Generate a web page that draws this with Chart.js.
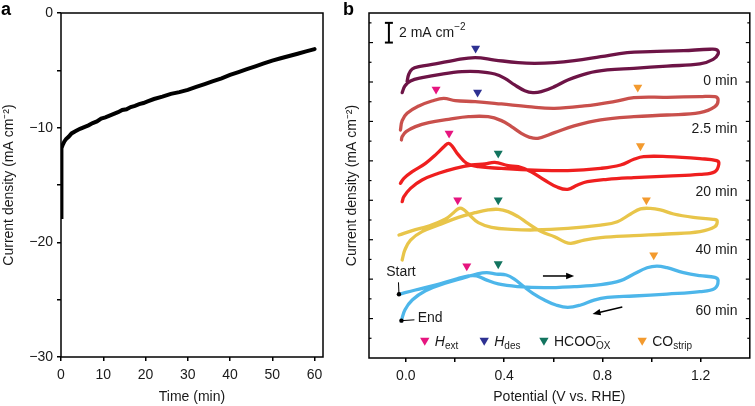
<!DOCTYPE html>
<html>
<head>
<meta charset="utf-8">
<script src="https://cdn.jsdelivr.net/npm/chart.js@4.4.0/dist/chart.umd.min.js"></script>
<style>
  body { margin: 0; background: #fff; }
  #wrapA { position: absolute; left: 0; top: 0; width: 340px; height: 406px; }
  #wrapB { position: absolute; left: 340px; top: 0; width: 415px; height: 406px; }
</style>
</head>
<body>
<div id="wrapA"><canvas id="chartA"></canvas></div>
<div id="wrapB"><canvas id="chartB"></canvas></div>
<script>
// ---- panel a : chronoamperometry ----
const timeMin = [0, 0.05, 0.15, 0.4, 0.8, 1.2, 1.8, 2.5, 3.5, 4.5, 5.5, 6.5, 7.5, 8.5, 9.5, 10.5, 11.5, 12.5, 13.5, 14.5,
  15.5, 16.5, 17.5, 18.5, 19.5, 20.5, 22, 24, 26, 28, 30, 32, 34, 36, 38, 40, 42, 44, 46, 48, 50, 52, 54, 56, 58, 60];
const currentA = [-17.8, -12.4, -11.8, -11.5, -11.2, -11.0, -10.8, -10.5, -10.3, -10.1, -9.95, -9.8, -9.6, -9.45, -9.2, -9.1, -8.95, -8.8, -8.65, -8.45,
  -8.4, -8.2, -8.1, -7.95, -7.85, -7.7, -7.5, -7.3, -7.05, -6.9, -6.7, -6.45, -6.2, -5.95, -5.7, -5.4, -5.15, -4.9, -4.65, -4.4, -4.15, -3.95, -3.75, -3.55, -3.35, -3.15];
const tickTimeA = [0, 10, 20, 30, 40, 50, 60];
const tickCurA = [-30, -25, -20, -15, -10, -5, 0];

// ---- panel b : CVs (current offset for stacking, mA cm-2) ----
const cv0V = [0.005, 0.012, 0.026, 0.053, 0.120, 0.201, 0.282, 0.362, 0.457, 0.524, 0.605, 0.686, 0.793, 0.901, 0.995, 1.130, 1.238, 1.267, 1.271,
  1.251, 1.197, 1.063, 0.928, 0.820, 0.739, 0.659, 0.605, 0.551, 0.517, 0.484, 0.443, 0.403, 0.362, 0.295, 0.228, 0.147, 0.066, 0.019, -0.004, -0.015];
const cv0J = [28.04, 28.81, 29.32, 29.56, 29.83, 30.23, 30.47, 30.23, 29.96, 29.89, 29.96, 30.17, 30.57, 30.98, 31.08, 31.18, 31.32, 31.25, 30.84,
  30.30, 29.83, 29.62, 29.39, 29.22, 28.88, 28.20, 27.53, 27.02, 26.92, 27.12, 27.70, 28.37, 28.81, 29.05, 29.05, 28.81, 28.44, 28.10, 27.59, 26.92];

const cv25V = [-0.022, -0.015, 0.005, 0.053, 0.106, 0.154, 0.201, 0.282, 0.389, 0.497, 0.605, 0.726, 0.847, 0.928, 1.063, 1.197, 1.258, 1.271,
  1.258, 1.197, 1.063, 0.928, 0.793, 0.685, 0.605, 0.537, 0.504, 0.470, 0.430, 0.389, 0.335, 0.255, 0.174, 0.093, 0.039, 0.001, -0.015, -0.018];
const cv25J = [23.13, 24.08, 24.82, 25.57, 26.07, 26.34, 26.11, 26.01, 25.77, 25.50, 25.33, 25.57, 26.01, 26.41, 26.45, 26.51, 26.51, 26.18,
  25.50, 24.89, 24.65, 24.48, 24.15, 23.54, 22.86, 22.29, 22.39, 22.79, 23.47, 24.08, 24.48, 24.48, 24.21, 23.88, 23.47, 22.96, 22.46, 22.12];

const cv20V = [-0.022, -0.008, 0.026, 0.080, 0.127, 0.158, 0.174, 0.190, 0.214, 0.248, 0.295, 0.389, 0.524, 0.659, 0.793, 0.874, 0.928, 0.968, 1.063, 1.197, 1.265, 1.274,
  1.258, 1.197, 1.063, 0.928, 0.820, 0.739, 0.699, 0.659, 0.618, 0.564, 0.510, 0.457, 0.416, 0.362, 0.322, 0.268, 0.201, 0.133, 0.066, 0.019, -0.008, -0.015];
const cv20J = [17.72, 18.23, 18.90, 19.75, 20.76, 21.51, 21.78, 21.44, 20.60, 19.75, 19.41, 19.24, 19.07, 19.01, 19.24, 19.58, 20.16, 20.43, 20.43, 20.22, 20.02, 19.68,
  18.90, 18.63, 18.46, 18.30, 18.13, 17.89, 17.55, 17.11, 17.32, 18.06, 18.90, 19.41, 19.51, 19.85, 19.68, 19.58, 19.24, 18.74, 18.06, 17.21, 16.37, 15.86];

const cv40V = [-0.028, 0.026, 0.093, 0.160, 0.194, 0.217, 0.234, 0.255, 0.295, 0.349, 0.430, 0.524, 0.659, 0.793, 0.861, 0.915, 0.955, 0.995, 1.036, 1.090, 1.170, 1.251, 1.267,
  1.258, 1.197, 1.063, 0.928, 0.793, 0.726, 0.672, 0.645, 0.605, 0.551, 0.497, 0.457, 0.416, 0.376, 0.335, 0.282, 0.214, 0.133, 0.066, 0.019, -0.004, -0.015];
const cv40J = [12.48, 12.92, 13.39, 14.07, 14.74, 15.18, 15.08, 14.61, 13.73, 13.26, 13.05, 12.99, 13.15, 13.49, 13.83, 14.61, 15.12, 15.18, 15.02, 14.61, 14.27, 14.07, 13.93,
  13.32, 12.82, 12.58, 12.41, 12.21, 11.97, 11.63, 11.80, 12.31, 12.82, 13.66, 14.34, 14.85, 15.08, 15.02, 14.74, 14.27, 13.49, 12.82, 11.97, 10.96, 9.94];

const cv60V = [-0.028, 0.039, 0.120, 0.201, 0.255, 0.288, 0.322, 0.376, 0.457, 0.564, 0.686, 0.793, 0.874, 0.928, 0.982, 1.022, 1.063, 1.130, 1.197, 1.258, 1.271,
  1.258, 1.197, 1.063, 0.928, 0.820, 0.766, 0.712, 0.659, 0.611, 0.564, 0.517, 0.477, 0.443, 0.409, 0.369, 0.329, 0.288, 0.241, 0.160, 0.080, 0.026, -0.004, -0.018];
const cv60J = [6.46, 6.90, 7.40, 7.98, 8.32, 8.32, 7.98, 7.51, 7.24, 7.13, 7.24, 7.44, 7.85, 8.52, 9.16, 9.33, 9.16, 8.66, 8.35, 8.18, 7.85,
  7.07, 6.73, 6.49, 6.29, 6.15, 5.88, 5.38, 5.14, 5.38, 5.88, 6.56, 7.30, 7.98, 8.42, 8.52, 8.66, 8.52, 8.18, 7.58, 6.83, 5.88, 4.87, 3.79];

const runLabels = ['0 min', '2.5 min', '20 min', '40 min', '60 min'];

// peak markers
const hextV = [0.123, 0.176, 0.211, 0.248];
const hextJ = [27.26, 22.79, 16.03, 9.33];
const hdesV = [0.284, 0.292];
const hdesJ = [31.42, 26.95];
const hcooV = [0.376, 0.376, 0.376];
const hcooJ = [20.76, 16.03, 9.54];
const coV = [0.944, 0.955, 0.979, 1.009];
const coJ = [27.46, 21.51, 16.03, 10.45];

const tickPotB = [0, 0.2, 0.4, 0.6, 0.8, 1.0, 1.2];
const tickJB = [2, 4, 6, 8, 10, 12, 14, 16, 18, 20, 22, 24, 26, 28, 30, 32, 34];

const FONT = '"Liberation Sans", Arial, Helvetica, sans-serif';
const TXT = '#1a1a1a';
Chart.defaults.font.family = FONT;
Chart.defaults.font.size = 14;
Chart.defaults.color = TXT;

const pts = (xs, ys) => xs.map((v, i) => ({x: v, y: ys[i]}));
const minus = v => v < 0 ? '\u2212' + Math.abs(v) : String(v);

function line(ctx, x1, y1, x2, y2) {
  ctx.beginPath(); ctx.moveTo(x1, y1); ctx.lineTo(x2, y2); ctx.stroke();
}
function tri(ctx, x, y, r, color) {
  ctx.beginPath();
  ctx.moveTo(x - r * 0.866, y - r * 0.5);
  ctx.lineTo(x + r * 0.866, y - r * 0.5);
  ctx.lineTo(x, y + r);
  ctx.closePath();
  ctx.fillStyle = color; ctx.fill();
}
function arrow(ctx, x1, y1, x2, y2) {
  const a = Math.atan2(y2 - y1, x2 - x1), hl = 8, hw = 3.2;
  const c = Math.cos(a), s = Math.sin(a);
  line(ctx, x1, y1, x2 - hl * 0.7 * c, y2 - hl * 0.7 * s);
  ctx.beginPath();
  ctx.moveTo(x2, y2);
  ctx.lineTo(x2 - hl * c + hw * s, y2 - hl * s - hw * c);
  ctx.lineTo(x2 - hl * c - hw * s, y2 - hl * s + hw * c);
  ctx.closePath(); ctx.fill();
}
// draw text runs with sub/superscripts
function runs(ctx, x, y, parts) {
  parts.forEach(p => {
    const sz = (p.sub || p.sup) ? 10 : 14;
    ctx.font = (p.it ? 'italic ' : '') + sz + 'px ' + FONT;
    const dy = p.sub ? 4 : (p.sup ? -5 : 0);
    ctx.fillText(p.t, x, y + dy);
    if (!p.stay) x += ctx.measureText(p.t).width;
  });
}

const frameA = {
  id: 'frameA',
  afterDraw(chart) {
    const {ctx, chartArea: a} = chart;
    ctx.save();
    ctx.strokeStyle = '#000'; ctx.lineWidth = 1.5;
    ctx.strokeRect(a.left, a.top, a.right - a.left, a.bottom - a.top);
    ctx.fillStyle = '#000';
    ctx.font = 'bold 18px ' + FONT;
    ctx.textBaseline = 'alphabetic';
    ctx.fillText('a', 1, 15);
    ctx.restore();
  }
};

new Chart(document.getElementById('chartA'), {
  type: 'scatter',
  data: {
    datasets: [{
      data: pts(timeMin, currentA),
      showLine: true,
      borderColor: '#000',
      borderWidth: 4,
      borderCapStyle: 'round',
      pointRadius: 0,
      tension: 0
    }]
  },
  options: {
    responsive: true,
    maintainAspectRatio: false,
    animation: false,
    devicePixelRatio: 1,
    layout: {padding: {left: 0, top: 13, right: 17, bottom: 0}},
    plugins: {legend: {display: false}, tooltip: {enabled: false}},
    scales: {
      x: {
        type: 'linear', min: 0, max: 62,
        afterBuildTicks: s => { s.ticks = tickTimeA.map(v => ({value: v})); },
        afterFit: s => { s.height = 49; },
        ticks: {padding: 6, callback: v => String(v)},
        grid: {drawOnChartArea: false, tickLength: 4, color: '#000', lineWidth: 1.5},
        border: {display: false},
        title: {display: true, text: 'Time (min)', padding: {top: 0, bottom: 0}}
      },
      y: {
        type: 'linear', min: -30, max: 0,
        afterBuildTicks: s => { s.ticks = tickCurA.map(v => ({value: v})); },
        afterFit: s => { s.width = 61; },
        ticks: {padding: 4, callback: v => v % 10 === 0 ? minus(v) : ''},
        grid: {drawOnChartArea: false, tickLength: 4, color: '#000', lineWidth: 1.5},
        border: {display: false},
        title: {display: true, text: 'Current density (mA cm\u207B\u00B2)', padding: {top: 1, bottom: 0}}
      }
    }
  },
  plugins: [frameA]
});

const decorB = {
  id: 'decorB',
  afterDraw(chart) {
    const {ctx, chartArea: a, scales: {x, y}} = chart;
    const X = v => x.getPixelForValue(v), Y = v => y.getPixelForValue(v);
    ctx.save();
    ctx.strokeStyle = '#000'; ctx.fillStyle = TXT; ctx.lineWidth = 1.5;
    ctx.strokeRect(a.left, a.top, a.right - a.left, a.bottom - a.top);
    // inner ticks on both sides
    ctx.lineWidth = 1.2;
    tickJB.forEach(v => {
      const py = Y(v), len = v % 4 === 0 ? 4 : 2.5;
      line(ctx, a.left, py, a.left + len, py);
      line(ctx, a.right, py, a.right - len, py);
    });
    // panel label
    ctx.fillStyle = '#000';
    ctx.font = 'bold 18px ' + FONT;
    ctx.textBaseline = 'alphabetic';
    ctx.fillText('b', 3, 15);
    // scale bar
    ctx.lineWidth = 2;
    const sx = X(-0.069);
    line(ctx, sx, Y(32), sx, Y(34));
    line(ctx, sx - 4, Y(32), sx + 4, Y(32));
    line(ctx, sx - 4, Y(34), sx + 4, Y(34));
    ctx.fillStyle = TXT;
    ctx.textBaseline = 'middle';
    runs(ctx, X(-0.028), Y(33), [{t: '2 mA cm'}, {t: '\u22122', sup: true}]);
    // run labels
    ctx.font = '14px ' + FONT;
    ctx.textAlign = 'right';
    const labJ = [28.1, 23.2, 16.8, 10.96, 4.77];
    runLabels.forEach((t, i) => ctx.fillText(t, X(1.35), Y(labJ[i])));
    ctx.textAlign = 'left';
    // start / end
    ctx.fillStyle = '#000'; ctx.strokeStyle = '#000'; ctx.lineWidth = 1;
    const s0 = [X(cv60V[0]), Y(cv60J[0])], e0 = [X(cv60V[cv60V.length - 1]), Y(cv60J[cv60J.length - 1])];
    [s0, e0].forEach(p => { ctx.beginPath(); ctx.arc(p[0], p[1], 2.2, 0, Math.PI * 2); ctx.fill(); });
    line(ctx, s0[0], s0[1], s0[0] - 0.5, s0[1] - 12);
    line(ctx, e0[0], e0[1], e0[0] + 13, e0[1] - 0.8);
    ctx.fillStyle = TXT;
    ctx.textAlign = 'center';
    ctx.fillText('Start', X(-0.02), Y(8.72));
    ctx.textAlign = 'left';
    ctx.fillText('End', X(0.048), Y(4.06));
    // scan direction arrows
    ctx.lineWidth = 1.5; ctx.fillStyle = '#000';
    arrow(ctx, X(0.558), Y(8.32), X(0.685), Y(8.32));
    arrow(ctx, X(0.881), Y(5.17), X(0.760), Y(4.46));
    // legend
    const ly = Y(1.63);
    const legend = [
      {v: 0.077, c: '#e6157f', p: [{t: 'H', it: true}, {t: 'ext', sub: true}]},
      {v: 0.319, c: '#2e3192', p: [{t: 'H', it: true}, {t: 'des', sub: true}]},
      {v: 0.562, c: '#12745f', p: [{t: 'HCOO'}, {t: '\u2212', sup: true, stay: true}, {t: 'OX', sub: true}]},
      {v: 0.962, c: '#f39a2e', p: [{t: 'CO'}, {t: 'strip', sub: true}]}
    ];
    legend.forEach(it => {
      tri(ctx, X(it.v), ly - 1.5, 5.4, it.c);
      ctx.fillStyle = TXT;
      runs(ctx, X(it.v) + 10, ly, it.p);
    });
    ctx.restore();
  }
};

const cvStyle = (data, color) => ({
  data, showLine: true, borderColor: color, borderWidth: 3.3, pointRadius: 0,
  tension: 0.4, borderCapStyle: 'round', borderJoinStyle: 'round'
});
const mark = (data, color) => ({
  data, showLine: false, pointStyle: 'triangle', rotation: 180, pointRadius: 5.2,
  backgroundColor: color, borderColor: color, borderWidth: 0
});

new Chart(document.getElementById('chartB'), {
  type: 'scatter',
  data: {
    datasets: [
      mark(pts(hextV, hextJ), '#e6157f'),
      mark(pts(hdesV, hdesJ), '#2e3192'),
      mark(pts(hcooV, hcooJ), '#12745f'),
      mark(pts(coV, coJ), '#f39a2e'),
      cvStyle(pts(cv0V, cv0J), '#6d1446'),
      cvStyle(pts(cv25V, cv25J), '#c9504c'),
      cvStyle(pts(cv20V, cv20J), '#ef1f1f'),
      cvStyle(pts(cv40V, cv40J), '#e8c54a'),
      cvStyle(pts(cv60V, cv60J), '#4db6ea')
    ]
  },
  options: {
    responsive: true,
    maintainAspectRatio: false,
    animation: false,
    devicePixelRatio: 1,
    layout: {padding: {left: 0, top: 13, right: 2, bottom: 0}},
    plugins: {legend: {display: false}, tooltip: {enabled: false}},
    scales: {
      x: {
        type: 'linear', min: -0.15, max: 1.4,
        afterBuildTicks: s => { s.ticks = tickPotB.map(v => ({value: v})); },
        afterFit: s => { s.height = 48; },
        ticks: {padding: 6, callback: v => Math.round(v * 10) % 4 === 0 ? v.toFixed(1) : ''},
        grid: {drawOnChartArea: false, tickLength: 4, color: '#000', lineWidth: 1.5},
        border: {display: false},
        title: {display: true, text: 'Potential (V vs. RHE)', padding: {top: 0, bottom: 0}}
      },
      y: {
        type: 'linear', min: 0, max: 35,
        afterFit: s => { s.width = 29; },
        ticks: {display: false},
        grid: {display: false},
        border: {display: false},
        title: {display: true, text: 'Current density (mA cm\u207B\u00B2)', padding: {top: 4, bottom: 0}}
      }
    }
  },
  plugins: [decorB]
});
</script>
</body>
</html>
